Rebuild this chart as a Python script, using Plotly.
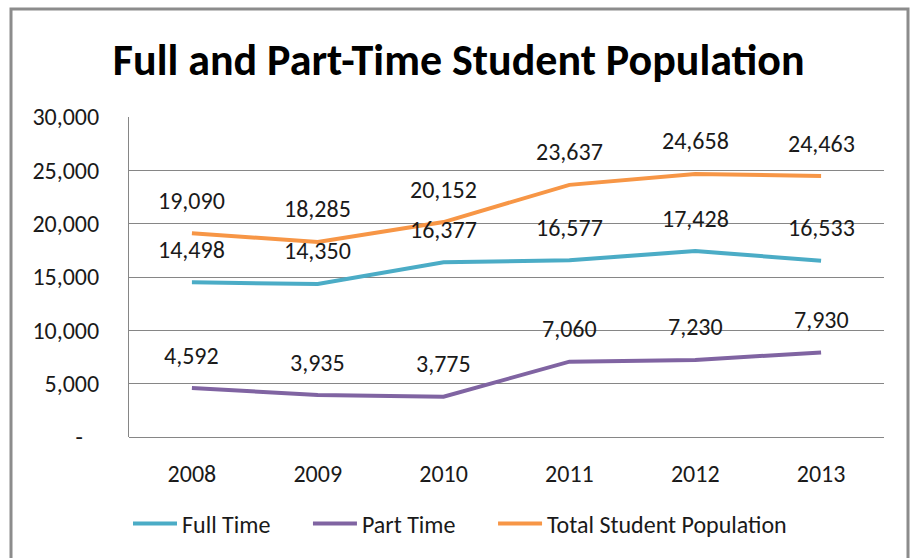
import plotly.graph_objects as go

years = ["2008", "2009", "2010", "2011", "2012", "2013"]
full_time = [14498, 14350, 16377, 16577, 17428, 16533]
part_time = [4592, 3935, 3775, 7060, 7230, 7930]
total = [19090, 18285, 20152, 23637, 24658, 24463]
y_ticks = [0, 5000, 10000, 15000, 20000, 25000, 30000]
y_tick_text = ["-\u00a0\u00a0\u00a0", "5,000", "10,000", "15,000", "20,000", "25,000", "30,000"]

series = [
    ("Full Time", full_time, "#4BACC6"),
    ("Part Time", part_time, "#8064A2"),
    ("Total Student Population", total, "#F79646"),
]

FONT = "Carlito, Lato, sans-serif"
W, H = 912, 558
ML, MR, MT, MB = 129, 28, 117, 121
FS = 24
PAD = "\u00a0" * 6

fig = go.Figure()
annotations = []
for k, (name, vals, color) in enumerate(series):
    label = name + (PAD if k < len(series) - 1 else "")
    fig.add_trace(go.Scatter(x=years, y=vals, name=label, mode="lines",
                             line=dict(color=color, width=4)))
    for i, v in enumerate(vals):
        annotations.append(dict(x=i, y=v, xref="x", yref="y", text=f"{v:,}", showarrow=False,
                                yshift=33, font=dict(size=FS, color="#1a1a1a", family=FONT)))

pw = W - ML - MR
ph = H - MT - MB
def px_x(p):
    return (p - ML) / pw
def px_y(p):
    return 1 - (p - MT) / ph

shapes = [dict(type="path", xref="paper", yref="paper",
               path=f"M {px_x(11)} {px_y(600)} L {px_x(11)} {px_y(9)} L {px_x(908)} {px_y(9)} L {px_x(908)} {px_y(600)}",
               line=dict(color="#8c8c8c", width=3))]

fig.update_layout(
    width=W, height=H,
    margin=dict(l=ML, r=MR, t=MT, b=MB),
    paper_bgcolor="white", plot_bgcolor="white",
    font=dict(family=FONT, color="#1a1a1a"),
    title=dict(text="<b>Full and Part-Time Student Population</b>", x=0.503, xref="container",
               xanchor="center", y=1 - 60 / H, yanchor="middle",
               font=dict(size=44, family=FONT, color="#000000")),
    showlegend=True,
    legend=dict(orientation="h", x=px_x(128), xanchor="left", xref="paper",
                y=px_y(524), yanchor="middle",
                font=dict(size=FS, family=FONT, color="#1a1a1a"),
                itemwidth=44, tracegroupgap=0),
    annotations=annotations,
    shapes=shapes,
)
fig.update_xaxes(type="category", range=[-0.5, 5.5], showgrid=False, showline=False,
                 zeroline=False, ticks="", ticklabelstandoff=20,
                 tickfont=dict(size=FS, family=FONT, color="#1a1a1a"))
fig.update_yaxes(range=[0, 30000], tickvals=y_ticks, ticktext=y_tick_text,
                 showgrid=True, gridcolor="#868686", gridwidth=1,
                 zeroline=True, zerolinecolor="#868686", zerolinewidth=1,
                 showline=True, linecolor="#868686", linewidth=1,
                 ticks="", ticklabelstandoff=24,
                 tickfont=dict(size=FS, family=FONT, color="#1a1a1a"))

fig.write_html("out.html")
